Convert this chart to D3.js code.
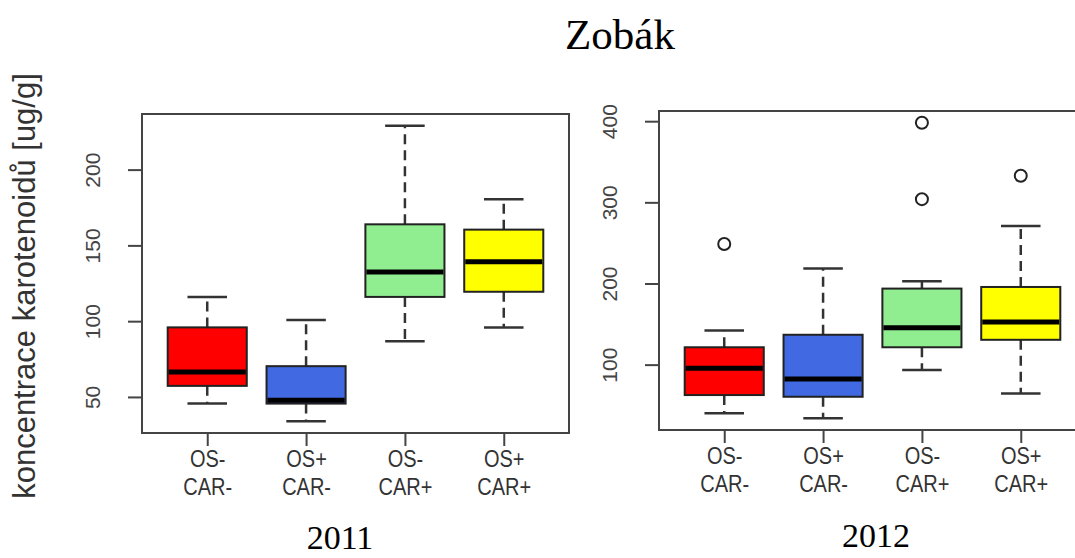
<!DOCTYPE html>
<html>
<head>
<meta charset="utf-8">
<script src="https://cdn.jsdelivr.net/npm/d3@7"></script>
<style>
  body { margin: 0; background: #fff; }
  svg text { font-family: "Liberation Sans", Arial, sans-serif; }
</style>
</head>
<body>
<div id="chart"></div>
<script>
// category labels (two lines under each box)
var groupTop = ["OS-", "OS+", "OS-", "OS+"];
var groupBottom = ["CAR-", "CAR-", "CAR+", "CAR+"];

// box stats per group: [lower whisker, Q1, median, Q3, upper whisker]
var stats2011 = [
    [45.6, 57.3, 66.5, 95.9, 116],
    [34, 45.6, 47.8, 70.3, 100.7],
    [86.8, 116, 132.4, 163.9, 228.9],
    [95.9, 119.4, 139.2, 160.4, 180.4]
];
var stats2012 = [
    [40.2, 62.5, 95.4, 121.4, 142.1],
    [34, 60.4, 82.3, 136.8, 218.5],
    [93.4, 121.4, 145.4, 193.7, 202.8],
    [64.5, 130.6, 152.4, 195.7, 270.9]
];
// outliers per group
var out2011 = [[], [], [], []];
var out2012 = [[248.6], [], [303.9, 398], [332.8]];

// y tick labels
var ticks2011 = [50, 100, 150, 200];
var ticks2012 = [100, 200, 300, 400];

var boxColors = ["#ff0000", "#4169e1", "#90ee90", "#ffff00"];

var svgWidth = 1075;
var svgHeight = 558;

var svg = d3.select("#chart").append("svg")
    .attr("width", svgWidth)
    .attr("height", svgHeight);

// main title
svg.append("text")
    .attr("x", 620)
    .attr("y", 49)
    .attr("text-anchor", "middle")
    .style("font-family", "'Liberation Serif', 'Times New Roman', serif")
    .style("font-size", "43px")
    .text("Zobák");

// y axis title
svg.append("text")
    .attr("transform", "translate(35, 286) rotate(-90)")
    .attr("text-anchor", "middle")
    .style("font-size", "31px")
    .attr("fill", "#333")
    .text("koncentrace karotenoidů [ug/g]");

var panels = [
    { year: "2011", stats: stats2011, out: out2011, ticks: ticks2011,
      left: 142, top: 114, width: 427, height: 319, yearX: 340, yearY: 549 },
    { year: "2012", stats: stats2012, out: out2012, ticks: ticks2012,
      left: 659, top: 111, width: 427, height: 319, yearX: 876, yearY: 547 }
];

panels.forEach(function(p) {
    var g = svg.append("g")
        .attr("transform", `translate(${p.left}, ${p.top})`);

    // R style range: data range padded by 4% each side
    var allVals = d3.merge(p.stats).concat(d3.merge(p.out));
    var ext = d3.extent(allVals);
    var pad = (ext[1] - ext[0]) * 0.04;

    var yScale = d3.scaleLinear()
        .domain([ext[0] - pad, ext[1] + pad])
        .range([p.height, 0]);

    var xScale = d3.scaleLinear()
        .domain([0.5 - 0.16, 4.5 + 0.16])
        .range([0, p.width]);

    var unit = xScale(2) - xScale(1);
    var boxW = unit * 0.8;
    var capW = boxW * 0.5;

    // y axis
    var yAxisG = g.append("g")
        .call(d3.axisLeft(yScale).tickValues(p.ticks).tickSize(14).tickSizeOuter(0));
    yAxisG.select(".domain").remove();
    yAxisG.selectAll("line").attr("stroke", "#444").attr("stroke-width", 2);
    yAxisG.selectAll("text")
        .attr("transform", "rotate(-90)")
        .attr("x", 0)
        .attr("y", -42)
        .attr("dy", 0)
        .attr("text-anchor", "middle")
        .attr("fill", "#444")
        .style("font-size", "21px");

    // x axis
    var xAxisG = g.append("g")
        .attr("transform", `translate(0, ${p.height})`)
        .call(d3.axisBottom(xScale).tickValues([1, 2, 3, 4]).tickSize(13).tickFormat(""));
    xAxisG.select(".domain").remove();
    xAxisG.selectAll("line").attr("stroke", "#444").attr("stroke-width", 2);
    xAxisG.selectAll(".tick").each(function(d, i) {
        var t = d3.select(this).append("text")
            .attr("text-anchor", "middle")
            .attr("fill", "#333")
            .attr("transform", "scale(1, 1.15)")
            .style("font-size", "20px");
        t.append("tspan").attr("x", 0).attr("y", 30).text(groupTop[i]);
        t.append("tspan").attr("x", 0).attr("y", 54).text(groupBottom[i]);
    });

    // boxes
    var box = g.selectAll(".box")
        .data(p.stats)
        .enter()
        .append("g")
        .attr("class", "box")
        .attr("transform", (d, i) => `translate(${xScale(i + 1)}, 0)`);

    // whiskers
    box.append("line")
        .attr("y1", d => yScale(d[3])).attr("y2", d => yScale(d[4]))
        .attr("stroke", "#333").attr("stroke-width", 2.5).attr("stroke-dasharray", "10,6");
    box.append("line")
        .attr("y1", d => yScale(d[1])).attr("y2", d => yScale(d[0]))
        .attr("stroke", "#333").attr("stroke-width", 2.5).attr("stroke-dasharray", "10,6");

    // staples
    box.append("line")
        .attr("x1", -capW / 2).attr("x2", capW / 2)
        .attr("y1", d => yScale(d[4])).attr("y2", d => yScale(d[4]))
        .attr("stroke", "#333").attr("stroke-width", 2.5);
    box.append("line")
        .attr("x1", -capW / 2).attr("x2", capW / 2)
        .attr("y1", d => yScale(d[0])).attr("y2", d => yScale(d[0]))
        .attr("stroke", "#333").attr("stroke-width", 2.5);

    // box body
    box.append("rect")
        .attr("x", -boxW / 2)
        .attr("width", boxW)
        .attr("y", d => yScale(d[3]))
        .attr("height", d => yScale(d[1]) - yScale(d[3]))
        .attr("fill", (d, i) => boxColors[i])
        .attr("stroke", "#222")
        .attr("stroke-width", 2);

    // median
    box.append("line")
        .attr("x1", -boxW / 2 + 1).attr("x2", boxW / 2 - 1)
        .attr("y1", d => yScale(d[2])).attr("y2", d => yScale(d[2]))
        .attr("stroke", "#000").attr("stroke-width", 5);

    // outliers
    p.out.forEach(function(vals, i) {
        g.selectAll(null)
            .data(vals)
            .enter()
            .append("circle")
            .attr("cx", xScale(i + 1))
            .attr("cy", d => yScale(d))
            .attr("r", 6)
            .attr("fill", "none")
            .attr("stroke", "#222")
            .attr("stroke-width", 2);
    });

    // frame
    g.append("rect")
        .attr("width", p.width)
        .attr("height", p.height)
        .attr("fill", "none")
        .attr("stroke", "#444")
        .attr("stroke-width", 2);

    // year label
    svg.append("text")
        .attr("x", p.yearX)
        .attr("y", p.yearY)
        .attr("text-anchor", "middle")
        .style("font-family", "'Liberation Serif', 'Times New Roman', serif")
        .style("font-size", "34px")
        .text(p.year);
});
</script>
</body>
</html>
